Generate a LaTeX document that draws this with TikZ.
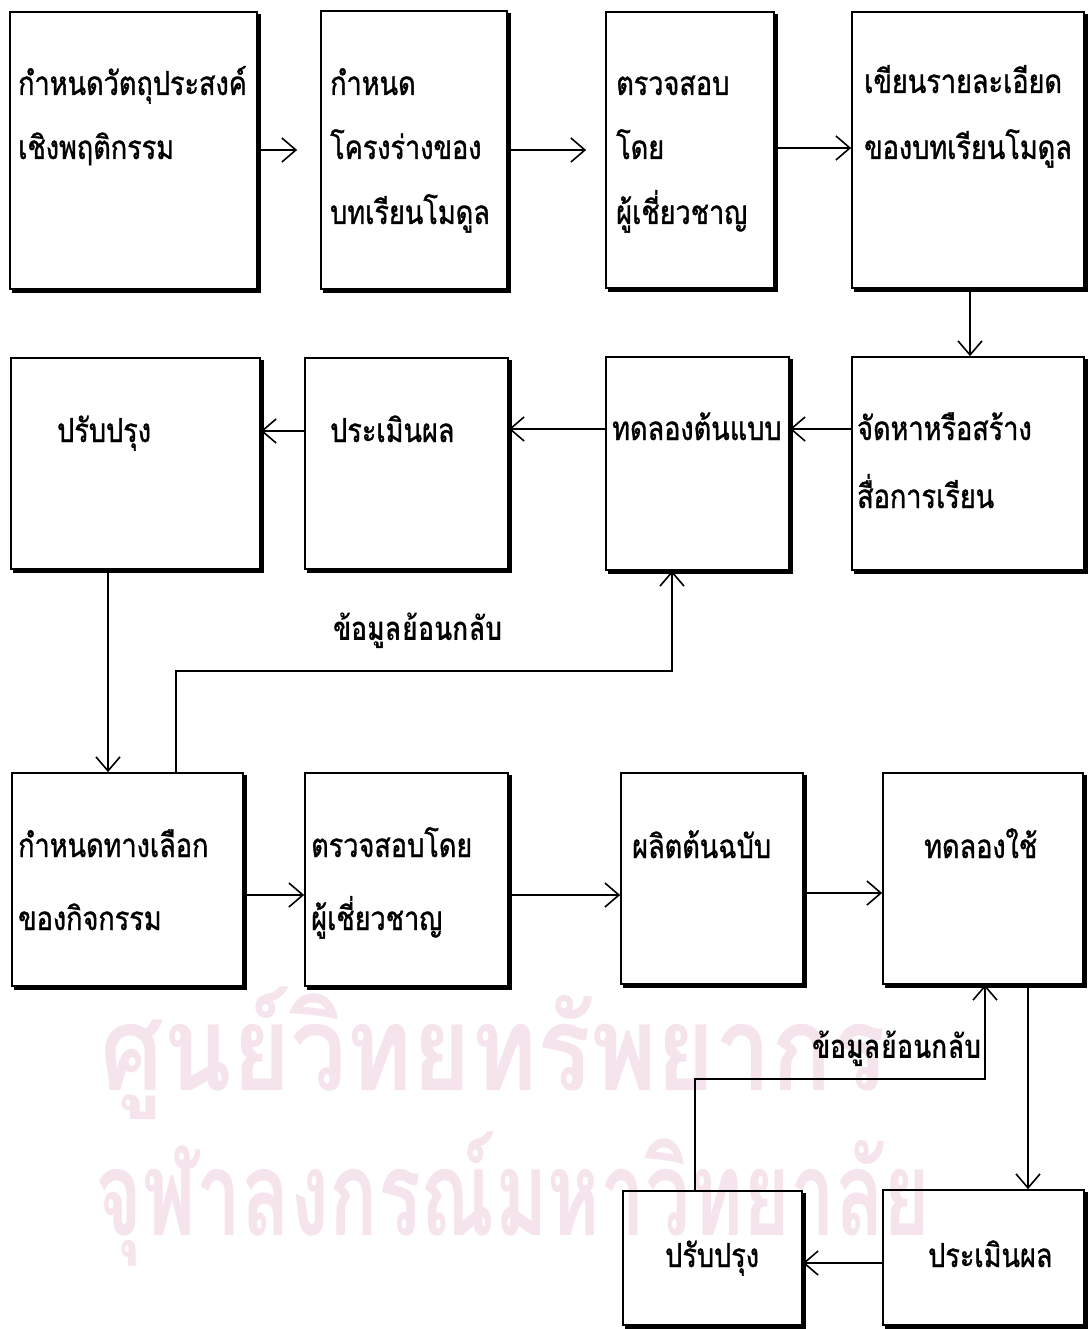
\documentclass[tikz,border=0pt]{standalone}
\usepackage{fontspec}
\newfontfamily\thai[Script=Thai,FakeStretch=0.82,FakeBold=1.1]{Loma}
\newfontfamily\thaib[Script=Thai,FakeStretch=0.82]{Loma Bold}
\newfontfamily\thaiw[Script=Thai]{Loma Bold}
\usetikzlibrary{arrows.meta,fit}
\definecolor{wm}{RGB}{246,228,236}
\tikzset{
  box/.style={draw, line width=1.7pt, inner sep=0pt},
  shade/.style={line width=2.6pt},
  txt/.style={font=\thai\fontsize{33}{33}\selectfont, inner sep=0pt, anchor=base west},
  lbl/.style={font=\thaib\fontsize{33}{33}\selectfont, inner sep=0pt, anchor=base west},
  wmark/.style={font=\thaiw\fontsize{100}{100}\selectfont, text=wm, inner sep=0pt, anchor=base west},
  arr/.style={line width=1.6pt, -{Straight Barb[length=14pt,width=24pt,line width=1.6pt]}},
}
\begin{document}
\begin{tikzpicture}[x=1pt,y=-1pt]
\useasboundingbox[fill=white] (0,0) rectangle (1089,1329);
% watermark
\node[wmark] (w1) at (100,1090) {\scalebox{1}[1.18]{ศูนย์วิทยทรัพยากร}};
\node[wmark] (w2) at (95,1235) {\scalebox{0.8}[1.18]{จุฬาลงกรณ์มหาวิทยาลัย}};
% boxes
\node[box, fit={(10,12)(257,289)}] (b1) {};
\node[box, fit={(321,11)(507,289)}] (b2) {};
\node[box, fit={(606,12)(774,288)}] (b3) {};
\node[box, fit={(852,12)(1084,288)}] (b4) {};
\node[box, fit={(11,358)(260,569)}] (b5) {};
\node[box, fit={(305,358)(508,569)}] (b6) {};
\node[box, fit={(606,357)(789,570)}] (b7) {};
\node[box, fit={(852,357)(1084,570)}] (b8) {};
\node[box, fit={(12,773)(243,986)}] (b9) {};
\node[box, fit={(305,773)(508,986)}] (b10) {};
\node[box, fit={(621,773)(803,984)}] (b11) {};
\node[box, fit={(883,773)(1083,984)}] (b12) {};
\node[box, fit={(623,1191)(802,1325)}] (b13) {};
\node[box, fit={(883,1190)(1084,1325)}] (b14) {};
\foreach \n in {b1,b2,b3,b4,b5,b6,b7,b8,b9,b10,b11,b12,b13,b14}{
  \draw[shade] ([shift={(1.6pt,-3pt)}]\n.north east) -- ([shift={(1.6pt,-1.6pt)}]\n.south east) -- ([shift={(3pt,-1.6pt)}]\n.south west);
}
% texts
\node[txt] (t1a) at (18,95) {กำหนดวัตถุประสงค์};
\node[txt] (t1b) at (18,159) {เชิงพฤติกรรม};
\node[txt] (t2a) at (330,95) {กำหนด};
\node[txt] (t2b) at (330,159) {โครงร่างของ};
\node[txt] (t2c) at (330,224) {บทเรียนโมดูล};
\node[txt] (t3a) at (616,95) {ตรวจสอบ};
\node[txt] (t3b) at (616,159) {โดย};
\node[txt] (t3c) at (616,224) {ผู้เชี่ยวชาญ};
\node[txt] (t4a) at (864,93) {เขียนรายละเอียด};
\node[txt] (t4b) at (864,159) {ของบทเรียนโมดูล};
\node[txt] (t5) at (57,442) {ปรับปรุง};
\node[txt] (t6) at (330,442) {ประเมินผล};
\node[txt] (t7) at (612,440) {ทดลองต้นแบบ};
\node[txt] (t8a) at (857,440) {จัดหาหรือสร้าง};
\node[txt] (t8b) at (857,508) {สื่อการเรียน};
\node[txt] (t9a) at (18,857) {กำหนดทางเลือก};
\node[txt] (t9b) at (18,930) {ของกิจกรรม};
\node[txt] (t10a) at (311,857) {ตรวจสอบโดย};
\node[txt] (t10b) at (311,930) {ผู้เชี่ยวชาญ};
\node[txt] (t11) at (632,858) {ผลิตต้นฉบับ};
\node[txt] (t12) at (924,858) {ทดลองใช้};
\node[txt] (t13) at (665,1267) {ปรับปรุง};
\node[txt] (t14) at (928,1267) {ประเมินผล};
\node[lbl] (l1) at (333,640) {ข้อมูลย้อนกลับ};
\node[lbl] (l2) at (812,1058) {ข้อมูลย้อนกลับ};
% connectors
\draw[arr, shorten >=23pt] (b1.east |- 0,150) -- (b2.west |- 0,150);
\draw[arr, shorten >=19pt] (b2.east |- 0,150) -- (b3.west |- 0,150);
\draw[arr] (b3.east |- 0,148) -- (b4.west |- 0,148);
\draw[arr] (b4.south -| 970,0) -- (b8.north -| 970,0);
\draw[arr] (b8.west |- 0,429) -- (b7.east |- 0,429);
\draw[arr] (b7.west |- 0,429) -- (b6.east |- 0,429);
\draw[arr] (b6.west |- 0,431) -- (b5.east |- 0,431);
\draw[arr] (b5.south -| 108,0) -- (b9.north -| 108,0);
\coordinate (f1) at (176,671);
\draw[arr] (b9.north -| f1) -- (f1) -| (b7.south -| 672,0);
\draw[arr] (b9.east |- 0,895) -- (b10.west |- 0,895);
\draw[arr] (b10.east |- 0,895) -- (b11.west |- 0,895);
\draw[arr] (b11.east |- 0,893) -- (b12.west |- 0,893);
\draw[arr] (b12.south -| 1028,0) -- (b14.north -| 1028,0);
\coordinate (f2) at (695,1079);
\draw[arr] (b13.north -| f2) -- (f2) -| (b12.south -| 985,0);
\draw[arr] (b14.west |- 0,1263) -- (b13.east |- 0,1263);
\end{tikzpicture}
\end{document}
